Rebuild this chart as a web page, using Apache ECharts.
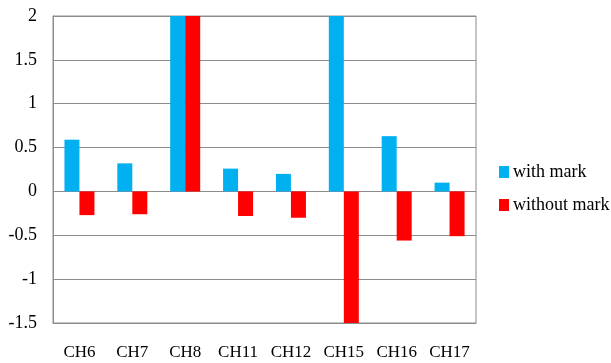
<!DOCTYPE html>
<html><head><meta charset="utf-8">
<script src="https://cdn.jsdelivr.net/npm/echarts@6/dist/echarts.min.js"></script>
<style>html,body{margin:0;padding:0;background:#fff}#c{width:611px;height:363px}</style>
</head><body><div id="c"></div>
<script>
const categories = ['CH6','CH7','CH8','CH11','CH12','CH15','CH16','CH17'];
const withMark = [0.59, 0.32, 2, 0.26, 0.2, 2, 0.63, 0.1];
const withoutMark = [-0.27, -0.26, 2, -0.28, -0.3, -1.5, -0.56, -0.51];
const seriesNames = ['with mark', 'without mark'];

const chart = echarts.init(document.getElementById('c'));
const font = 'Liberation Serif, Times New Roman, serif';
chart.setOption({
  animation: false,
  grid: { left: 53, top: 16, right: 135, bottom: 40, show: true, borderColor: '#8c8c8c', borderWidth: 1 },
  legend: {
    orient: 'vertical', left: 494, top: 158, icon: 'rect', itemWidth: 10, itemHeight: 12,
    itemGap: 15,
    textStyle: { fontFamily: font, fontSize: 18, color: '#000', padding: [0,0,0,-1] },
    data: seriesNames
  },
  xAxis: {
    type: 'category', data: categories,
    axisLine: { onZero: false, lineStyle: { color: '#8c8c8c' } },
    axisTick: { show: false },
    axisLabel: { fontFamily: font, fontSize: 17, color: '#000', margin: 21, interval: 0, hideOverlap: false }
  },
  yAxis: {
    type: 'value', min: -1.5, max: 2, interval: 0.5,
    axisLine: { show: true, lineStyle: { color: '#8c8c8c' } },
    axisTick: { show: false },
    splitLine: { lineStyle: { color: '#8c8c8c' } },
    axisLabel: { fontFamily: font, fontSize: 18, color: '#000', margin: 16 }
  },
  series: [
    { name: seriesNames[0], type: 'bar', data: withMark, barWidth: 15, barGap: '0%', itemStyle: { color: '#00B0F0' } },
    { name: seriesNames[1], type: 'bar', data: withoutMark, barWidth: 15, barGap: '0%', itemStyle: { color: '#FF0000' } }
  ]
});
</script></body></html>
